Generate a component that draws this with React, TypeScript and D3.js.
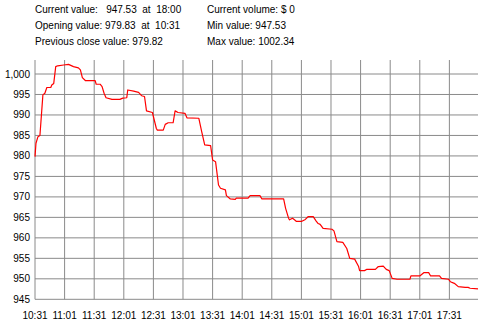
import React from "react";
import * as d3 from "d3";

const times = [
  "10:31","10:32","10:34","10:36","10:39","10:41","10:43","10:47","10:48","10:50",
  "10:52","10:54","11:00","11:05","11:10","11:15","11:17","11:19","11:22","11:32",
  "11:33","11:37","11:39","11:41","11:43","11:49","11:57","12:00","12:04","12:05",
  "12:11","12:16","12:19","12:22","12:24","12:30","12:34","12:35","12:41","12:43",
  "12:46","12:51","12:53","12:56","13:03","13:05","13:17","13:20","13:23","13:29",
  "13:31","13:34","13:37","13:39","13:44","13:45","13:49","13:54","13:55","14:07",
  "14:09","14:19","14:21","14:43","14:45","14:48","14:49","14:52","14:54","14:56",
  "15:01","15:05","15:08","15:13","15:16","15:18","15:20","15:23","15:32","15:34",
  "15:37","15:43","15:47","15:50","15:55","15:59","16:00","16:05","16:07","16:16",
  "16:19","16:24","16:27","16:30","16:33","16:38","16:51","16:52","17:01","17:05",
  "17:10","17:12","17:21","17:23","17:30","17:32","17:36","17:40","17:47","17:50",
  "17:52","18:00"
];
const values = [
  979.83,983.1,984.7,985.0,994.9,995.3,996.7,996.7,997.3,997.7,
  1001.8,1002.0,1002.2,1002.34,1001.8,1001.5,1001.0,999.1,998.4,998.4,
  997.5,997.5,996.9,995.3,994.2,993.8,993.8,994.1,994.2,996.1,
  995.8,995.5,994.7,994.5,991.0,990.6,986.7,986.3,986.3,987.7,
  988.1,988.1,991.0,990.6,990.4,989.3,989.2,985.9,982.7,982.5,
  979.0,978.6,972.9,972.1,971.7,970.3,969.5,969.4,969.7,969.7,
  970.3,970.3,969.5,969.5,967.2,964.8,964.4,964.8,964.4,964.0,
  964.0,964.5,965.2,965.2,964.1,963.5,963.3,962.3,962.1,961.7,
  959.1,958.9,957.4,955.0,954.8,953.0,952.0,952.0,952.3,952.3,
  953.0,953.1,952.3,952.0,950.1,949.9,949.9,950.7,950.7,951.5,
  951.5,950.7,950.7,950.1,949.9,949.3,948.9,948.1,947.9,947.9,
  947.7,947.53
];
const xTickLabels = [
  "10:31","11:01","11:31","12:01","12:31","13:01","13:31","14:01",
  "14:31","15:01","15:31","16:01","16:31","17:01","17:31"
];
const yTickValues = [945,950,955,960,965,970,975,980,985,990,995,1000];
const headerLeft = [
  "Current value:   947.53  at  18:00",
  "Opening value: 979.83  at  10:31",
  "Previous close value: 979.82"
];
const headerRight = [
  "Current volume: $ 0",
  "Min value: 947.53",
  "Max value: 1002.34"
];

const toMin = (s: string) => {
  const [h, m] = s.split(":").map(Number);
  return h * 60 + m;
};

export default function App() {
  const W = 480, H = 321;
  const left = 35, right = 478, top = 60, bottom = 299.3;
  const x = d3.scaleLinear().domain([toMin("10:31"), toMin("18:00")]).range([left, right]);
  const y = d3.scaleLinear().domain([945, 1000]).range([bottom, 74]);
  const pts: [number, number][] = times.map((t, i) => [toMin(t), values[i]]);
  const line = d3.line<[number, number]>().x(d => x(d[0])).y(d => y(d[1]));
  const fmt = d3.format(",");
  const font = "'Liberation Sans', Arial, sans-serif";
  const grid = "#8a8a8a";
  const rowY = [13, 29, 45];
  return (
    <svg width={W} height={H} style={{ position: "absolute", left: 0, top: 0, background: "#fff" }}
      fontFamily={font} fontSize={10}>
      <g fill="#000" style={{ whiteSpace: "pre" }}>
        {headerLeft.map((s, i) => (
          <text key={"l" + i} x={35} y={rowY[i]} xmlSpace="preserve">{s}</text>
        ))}
        {headerRight.map((s, i) => (
          <text key={"r" + i} x={207} y={rowY[i]} xmlSpace="preserve">{s}</text>
        ))}
      </g>
      <g stroke={grid} strokeWidth={1}>
        {yTickValues.map(v => (
          <line key={v} x1={left} x2={right} y1={y(v)} y2={y(v)} />
        ))}
        {xTickLabels.map(t => (
          <line key={t} x1={x(toMin(t))} x2={x(toMin(t))} y1={top} y2={bottom} />
        ))}
      </g>
      <g fill="#000" textAnchor="end">
        {yTickValues.map(v => (
          <text key={v} x={30} y={y(v)} dy="0.35em">{fmt(v)}</text>
        ))}
      </g>
      <g fill="#000" textAnchor="middle">
        {xTickLabels.map(t => (
          <text key={t} x={x(toMin(t))} y={319}>{t}</text>
        ))}
      </g>
      <path d={line(pts) || ""} fill="none" stroke="#ff0000" strokeWidth={1.2} strokeLinejoin="round" />
    </svg>
  );
}
